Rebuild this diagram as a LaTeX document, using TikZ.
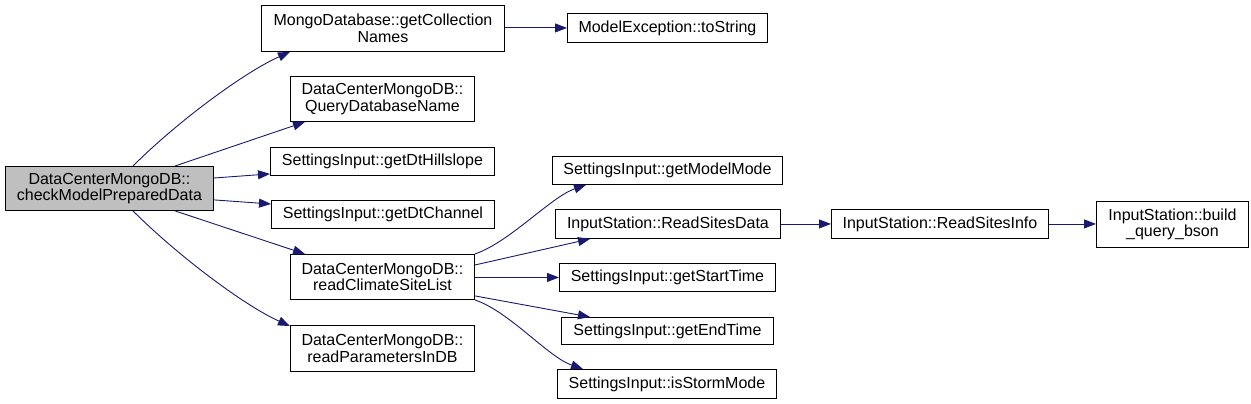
\documentclass[tikz,border=0pt]{standalone}
\usepackage{fontspec}
\setmainfont{Liberation Sans}
\usetikzlibrary{arrows.meta,calc}
\definecolor{edgeblue}{HTML}{191970}
\definecolor{rootgray}{HTML}{BFBFBF}
\begin{document}
\begin{tikzpicture}[x=1pt,y=-1pt,
  box/.style={draw=black,line width=0.9pt,fill=white,inner sep=0pt,anchor=north west,align=center,
    font=\fontsize{16}{16.5}\selectfont},
  edge/.style={draw=edgeblue,line width=0.9pt,-{Triangle[length=12pt,width=9pt]}}]
\useasboundingbox (0,0) rectangle (1251,404);
% nodes
\node[box,fill=rootgray,minimum width=208pt,minimum height=44pt] (root) at (5,166) {DataCenterMongoDB::\\checkModelPreparedData};
\node[box,minimum width=243pt,minimum height=46pt] (gcn) at (261,5) {MongoDatabase::getCollection\\Names};
\node[box,minimum width=200pt,minimum height=29pt] (mex) at (567,13) {ModelException::toString};
\node[box,minimum width=184pt,minimum height=45pt] (qdn) at (290,76) {DataCenterMongoDB::\\QueryDatabaseName};
\node[box,minimum width=224pt,minimum height=28pt] (hill) at (270,147) {SettingsInput::getDtHillslope};
\node[box,minimum width=223pt,minimum height=28pt] (chan) at (271,200) {SettingsInput::getDtChannel};
\node[box,minimum width=184pt,minimum height=45pt] (rcs) at (290,254) {DataCenterMongoDB::\\readClimateSiteList};
\node[box,minimum width=184pt,minimum height=46pt] (rpd) at (290,325) {DataCenterMongoDB::\\readParametersInDB};
\node[box,minimum width=230pt,minimum height=28pt] (gmm) at (552,156) {SettingsInput::getModelMode};
\node[box,minimum width=225pt,minimum height=29pt] (rsd) at (555,209) {InputStation::ReadSitesData};
\node[box,minimum width=217pt,minimum height=29pt] (rsi) at (831,209) {InputStation::ReadSitesInfo};
\node[box,minimum width=152pt,minimum height=46pt] (bqb) at (1096,201) {InputStation::build\\\_query\_bson};
\node[box,minimum width=216pt,minimum height=28pt] (gst) at (559,263) {SettingsInput::getStartTime};
\node[box,minimum width=212pt,minimum height=27pt] (get) at (561,317) {SettingsInput::getEndTime};
\node[box,minimum width=219pt,minimum height=29pt] (ism) at (557,369) {SettingsInput::isStormMode};
% edges
\draw[edge] ($(root.north west)+(128,0)$) .. controls +(45,-45) and +(-45,20) .. ($(gcn.south west)+(29,0)$);
\draw[edge] ($(root.north west)+(170,0)$) -- ($(qdn.south west)+(15,0)$);
\draw[edge] ($(root.north east)+(0,12)$) -- ($(hill.south west)+(0,-2)$);
\draw[edge] ($(root.south east)+(0,-11)$) -- ($(chan.north west)+(0,4)$);
\draw[edge] ($(root.south west)+(170,0)$) -- ($(rcs.north west)+(15,0)$);
\draw[edge] ($(root.south west)+(128,0)$) .. controls +(45,45) and +(-45,-20) .. ($(rpd.north west)+(0,1)$);
\draw[edge] (gcn.east |- mex.west) -- (mex.west);
\draw[edge] (rcs.north east) .. controls +(35,-12) and +(-35,12) .. ($(gmm.south west)+(34,0)$);
\draw[edge] ($(rcs.north east)+(0,11)$) -- ($(rsd.south west)+(35,0)$);
\draw[edge] (rcs.east |- gst.west) -- (gst.west);
\draw[edge] ($(rcs.south east)+(0,-4)$) -- ($(get.north west)+(29,0)$);
\draw[edge] (rcs.south east) .. controls +(35,12) and +(-35,-12) .. ($(ism.north west)+(26,0)$);
\draw[edge] (rsd.east) -- (rsi.west);
\draw[edge] (rsi.east) -- (rsi.east -| bqb.west);
\end{tikzpicture}
\end{document}
